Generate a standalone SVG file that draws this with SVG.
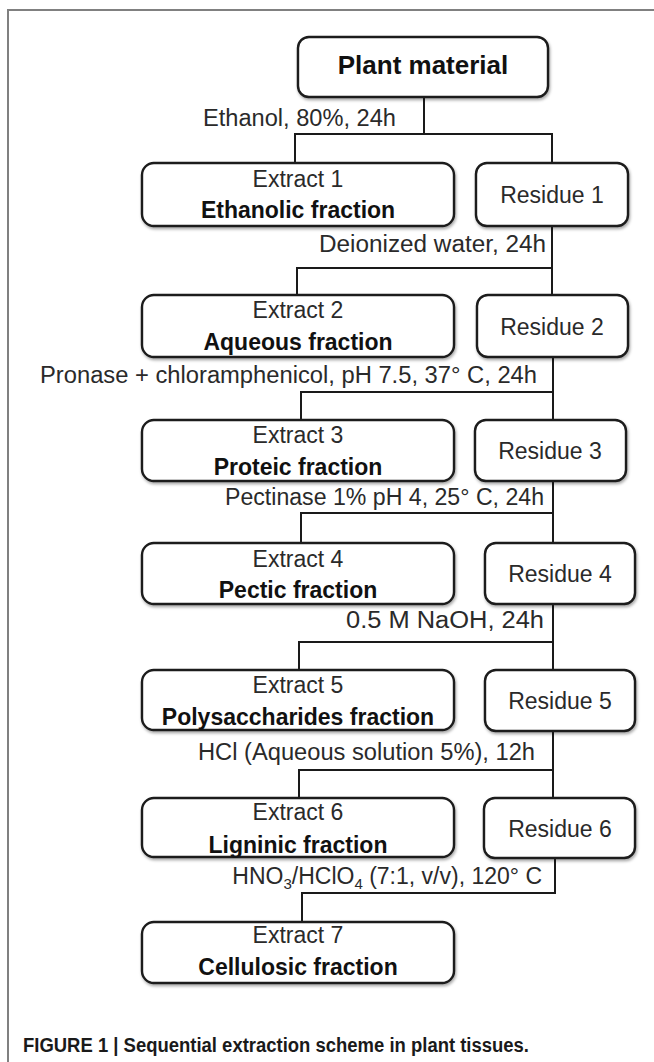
<svg xmlns="http://www.w3.org/2000/svg" width="654" height="1062" viewBox="0 0 654 1062">
<defs>
<filter id="sh" x="-10%" y="-20%" width="120%" height="150%">
<feDropShadow dx="1" dy="2" stdDeviation="1.5" flood-color="#000" flood-opacity="0.35"/>
</filter>
<style>
.box{fill:#fff;stroke:#1a1a1a;stroke-width:2.4;filter:url(#sh)}
.ln{fill:none;stroke:#1a1a1a;stroke-width:2}
.t{font-family:"Liberation Sans",Arial,sans-serif;font-size:23px;fill:#2a2a2a}
.b{font-family:"Liberation Sans",Arial,sans-serif;font-size:23px;font-weight:bold;fill:#111}
.m{text-anchor:middle}
.e{text-anchor:end}
.frame{fill:none;stroke:#808080;stroke-width:2}
.cap{font-family:"Liberation Sans",Arial,sans-serif;font-size:19.5px;font-weight:bold;fill:#1a1a1a}
</style>
</defs>
<rect width="654" height="1062" fill="#fff"/>
<path class="frame" d="M8 1062 V10 H654"/>

<g id="connectors">
<path class="ln" d="M424 97 V134 M295 163 V134 H552 V163"/>
<path class="ln" d="M552 226 V295 M297 295 V268 H552"/>
<path class="ln" d="M553 357 V420 M301 420 V392 H553"/>
<path class="ln" d="M553 481 V543 M301 543 V513 H553"/>
<path class="ln" d="M553 604 V670 M299 670 V642 H553"/>
<path class="ln" d="M553 731 V798 M299 798 V770 H553"/>
<path class="ln" d="M555 858 V893 H302 V922"/>
</g>

<g id="plant">
<rect class="box" x="298" y="37" width="250" height="60" rx="11"/>
<text class="b m" x="423" y="74" style="font-size:26px">Plant material</text>
</g>

<g id="extract1">
<rect class="box" x="142" y="163" width="312" height="63" rx="12"/>
<text class="t m" x="298" y="187">Extract 1</text>
<text class="b m" x="298" y="218">Ethanolic fraction</text>
</g>
<g id="residue1">
<rect class="box" x="476" y="163" width="152" height="63" rx="11"/>
<text class="t m" x="552" y="203">Residue 1</text>
</g>

<g id="extract2">
<rect class="box" x="142" y="295" width="312" height="62" rx="12"/>
<text class="t m" x="298" y="318">Extract 2</text>
<text class="b m" x="298" y="350">Aqueous fraction</text>
</g>
<g id="residue2">
<rect class="box" x="477" y="295" width="151" height="62" rx="11"/>
<text class="t m" x="552" y="335">Residue 2</text>
</g>

<g id="extract3">
<rect class="box" x="142" y="420" width="312" height="61" rx="12"/>
<text class="t m" x="298" y="443">Extract 3</text>
<text class="b m" x="298" y="475">Proteic fraction</text>
</g>
<g id="residue3">
<rect class="box" x="475" y="420" width="151" height="61" rx="11"/>
<text class="t m" x="550" y="459">Residue 3</text>
</g>

<g id="extract4">
<rect class="box" x="142" y="543" width="312" height="61" rx="12"/>
<text class="t m" x="298" y="567">Extract 4</text>
<text class="b m" x="298" y="598">Pectic fraction</text>
</g>
<g id="residue4">
<rect class="box" x="485" y="543" width="150" height="61" rx="11"/>
<text class="t m" x="560" y="582">Residue 4</text>
</g>

<g id="extract5">
<rect class="box" x="142" y="670" width="312" height="60" rx="12"/>
<text class="t m" x="298" y="693">Extract 5</text>
<text class="b m" x="298" y="725">Polysaccharides fraction</text>
</g>
<g id="residue5">
<rect class="box" x="485" y="670" width="150" height="61" rx="11"/>
<text class="t m" x="560" y="709">Residue 5</text>
</g>

<g id="extract6">
<rect class="box" x="142" y="798" width="312" height="59" rx="12"/>
<text class="t m" x="298" y="820">Extract 6</text>
<text class="b m" x="298" y="853">Ligninic fraction</text>
</g>
<g id="residue6">
<rect class="box" x="484" y="798" width="151" height="60" rx="11"/>
<text class="t m" x="560" y="837">Residue 6</text>
</g>

<g id="extract7">
<rect class="box" x="142" y="922" width="312" height="61" rx="12"/>
<text class="t m" x="298" y="943">Extract 7</text>
<text class="b m" x="298" y="975">Cellulosic fraction</text>
</g>

<g id="labels">
<text class="t" x="203" y="126" textLength="193" lengthAdjust="spacingAndGlyphs">Ethanol, 80%, 24h</text>
<text class="t" x="319" y="252" textLength="227" lengthAdjust="spacingAndGlyphs">Deionized water, 24h</text>
<text class="t" x="40" y="383" textLength="497" lengthAdjust="spacingAndGlyphs">Pronase + chloramphenicol, pH 7.5, 37° C, 24h</text>
<text class="t" x="225" y="505" textLength="319" lengthAdjust="spacingAndGlyphs">Pectinase 1% pH 4, 25° C, 24h</text>
<text class="t" x="346" y="628" textLength="198" lengthAdjust="spacingAndGlyphs">0.5 M NaOH, 24h</text>
<text class="t" x="198" y="760" textLength="337" lengthAdjust="spacingAndGlyphs">HCl (Aqueous solution 5%), 12h</text>
<text class="t e" x="542" y="884">HNO<tspan dy="5" style="font-size:15px">3</tspan><tspan dy="-5">/HClO</tspan><tspan dy="5" style="font-size:15px">4</tspan><tspan dy="-5"> (7:1, v/v), 120° C</tspan></text>
</g>

<g id="caption">
<text class="cap" x="23" y="1052" textLength="506" lengthAdjust="spacingAndGlyphs">FIGURE 1 | Sequential extraction scheme in plant tissues.</text>
</g>
</svg>
